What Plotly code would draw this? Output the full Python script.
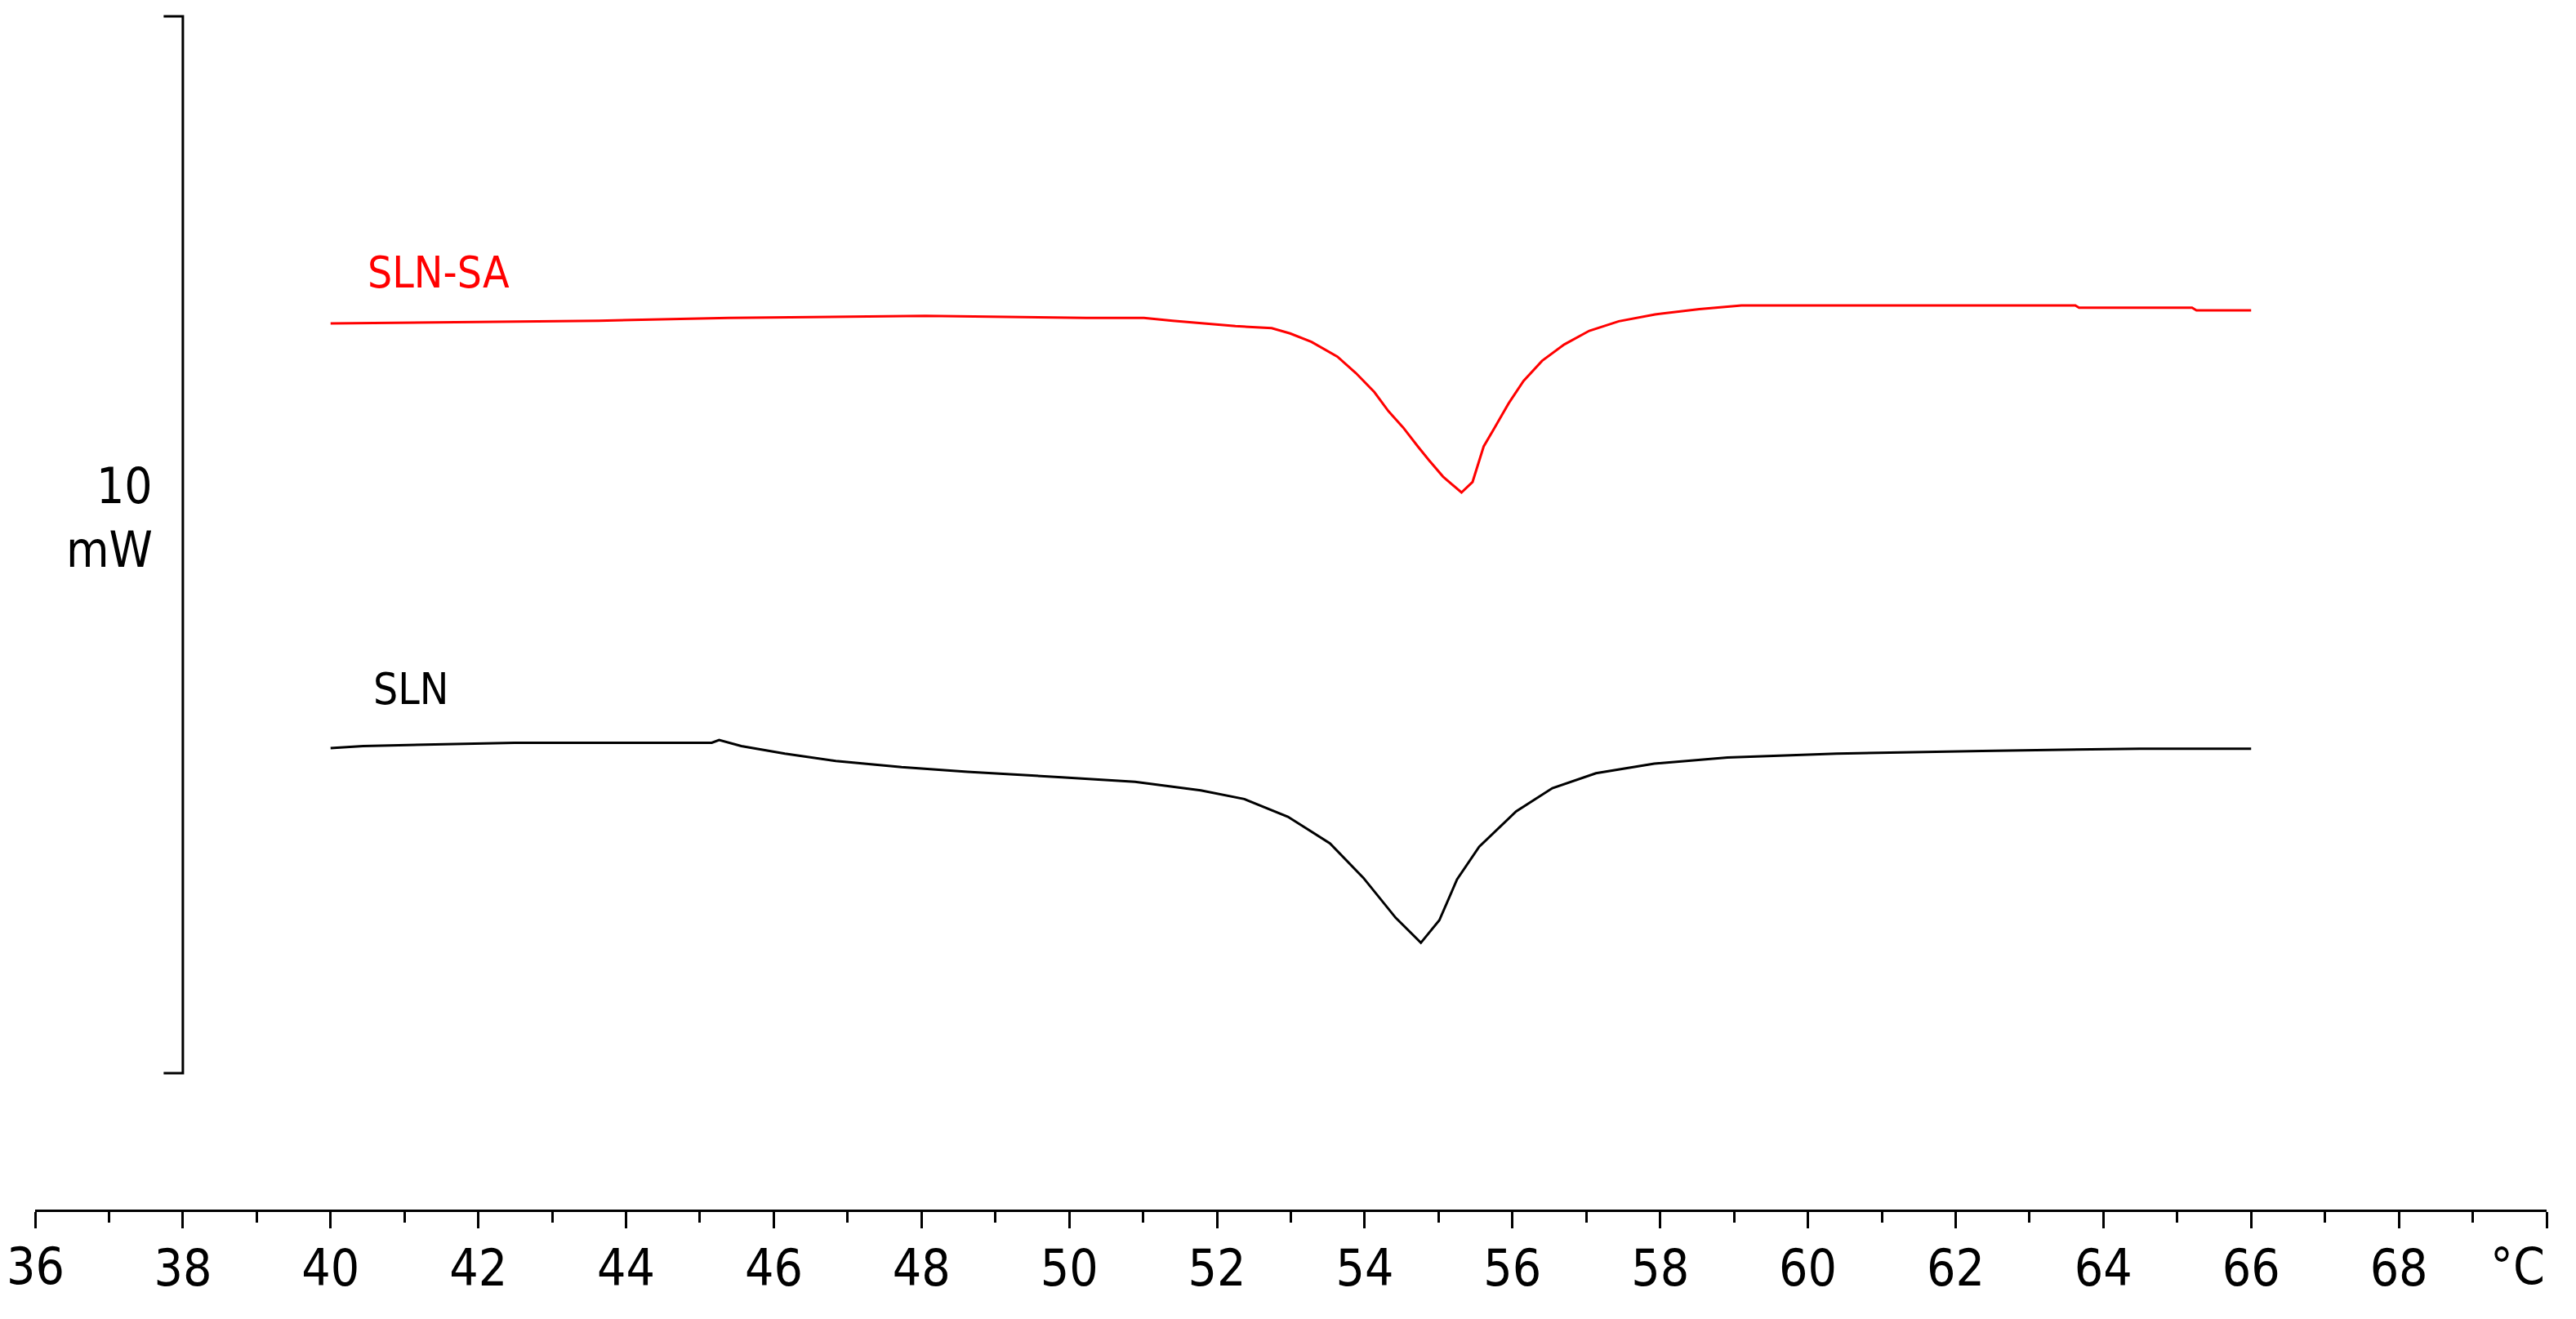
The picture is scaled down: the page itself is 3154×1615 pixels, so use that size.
import plotly.graph_objects as go

# DSC curves, temperature in degC, heat flow in mW (arbitrary offset, 10 mW scale bar)
sln_sa_temp = [40.0, 43.63, 45.39, 48.05, 50.23, 51.01, 51.40, 51.87, 52.25, 52.74, 52.99,
               53.28, 53.63, 53.88, 54.13, 54.32, 54.52, 54.72, 54.87, 55.06, 55.31,
               55.46, 55.61, 55.76, 55.95, 56.15, 56.40, 56.70, 57.04, 57.44, 57.93,
               58.53, 59.10, 63.62, 63.67, 65.20, 65.26, 66.0]
sln_sa_mw = [7.094, 7.12, 7.146, 7.166, 7.146, 7.146, 7.12, 7.094, 7.069, 7.05, 7.0,
             6.92, 6.78, 6.625, 6.445, 6.265, 6.11, 5.93, 5.80, 5.645, 5.495,
             5.595, 5.93, 6.11, 6.34, 6.55, 6.74, 6.895, 7.025, 7.115, 7.18,
             7.23, 7.264, 7.264, 7.243, 7.243, 7.218, 7.218]

sln_temp = [40.0, 40.44, 42.49, 45.16, 45.26, 45.56, 46.15, 46.84, 47.73, 48.62, 49.90,
            50.89, 51.78, 52.37, 52.96, 53.53, 53.98, 54.42, 54.76, 55.01, 55.25,
            55.55, 56.05, 56.54, 57.13, 57.92, 58.91, 60.39, 62.36, 64.49, 66.0]
sln_mw = [3.076, 3.096, 3.127, 3.127, 3.153, 3.096, 3.024, 2.954, 2.896, 2.852, 2.80,
          2.757, 2.676, 2.594, 2.427, 2.175, 1.85, 1.47, 1.234, 1.447, 1.834,
          2.143, 2.478, 2.697, 2.838, 2.929, 2.988, 3.024, 3.05, 3.07, 3.07]

# scale bar bracket (10 mW) at 38 degC
bar_x = [37.74, 38.0, 38.0, 37.74]
bar_y = [10.0, 10.0, 0.0, 0.0]

tick_vals = list(range(36, 71, 2))
# first and last labels are drawn as annotations (edge labels get dropped by plotly)
tick_text = [""] + [str(v) for v in tick_vals[1:-1]] + [""]

font = "DejaVu Sans Condensed, Roboto, sans-serif"

fig = go.Figure()

fig.add_trace(go.Scatter(x=sln_sa_temp, y=sln_sa_mw, mode="lines",
                         line=dict(color="#ff0000", width=3), name="SLN-SA"))
fig.add_trace(go.Scatter(x=sln_temp, y=sln_mw, mode="lines",
                         line=dict(color="#000000", width=3), name="SLN"))
fig.add_trace(go.Scatter(x=bar_x, y=bar_y, mode="lines",
                         line=dict(color="#000000", width=3), name="scale",
                         cliponaxis=False))

# curve labels
fig.add_annotation(x=40.48, y=7.58, text="SLN-SA", showarrow=False, xanchor="left",
                   font=dict(family=font, size=53, color="#ff0000"))
fig.add_annotation(x=40.55, y=3.64, text="SLN", showarrow=False, xanchor="left",
                   font=dict(family=font, size=53, color="#000000"))

# scale bar label
fig.add_annotation(x=37.61, y=5.553, text="10", showarrow=False, xanchor="right",
                   font=dict(family=font, size=60, color="#000000"))
fig.add_annotation(x=37.61, y=4.957, text="mW", showarrow=False, xanchor="right",
                   font=dict(family=font, size=60, color="#000000"))

# edge labels of the temperature axis
fig.add_annotation(x=36, xref="x", y=-0.0475, yref="paper", text="36", showarrow=False,
                   xanchor="center", yanchor="middle",
                   font=dict(family=font, size=62, color="#000000"))
fig.add_annotation(x=70, xref="x", y=-0.0475, yref="paper", text="°C", showarrow=False,
                   xanchor="right", yanchor="middle",
                   font=dict(family=font, size=62, color="#000000"))

# page body adds an 8px margin, so the figure is a little smaller than the window
fig.update_layout(
    width=3146,
    height=1607,
    margin=dict(l=35, r=36, t=0, b=134),
    plot_bgcolor="white",
    paper_bgcolor="white",
    showlegend=False,
    xaxis=dict(
        range=[36, 70],
        showgrid=False,
        zeroline=False,
        showline=True,
        linecolor="#000000",
        linewidth=3,
        ticks="outside",
        ticklen=20,
        tickwidth=2.5,
        tickcolor="#000000",
        tickvals=tick_vals,
        ticktext=tick_text,
        ticklabelstandoff=-4,
        tickfont=dict(family=font, size=62, color="#000000"),
        minor=dict(dtick=1, tick0=36, ticks="outside", ticklen=13,
                   tickwidth=2.5, tickcolor="#000000"),
    ),
    yaxis=dict(range=[-1.29, 10.093], visible=False),
)

fig.write_html("out.html")
